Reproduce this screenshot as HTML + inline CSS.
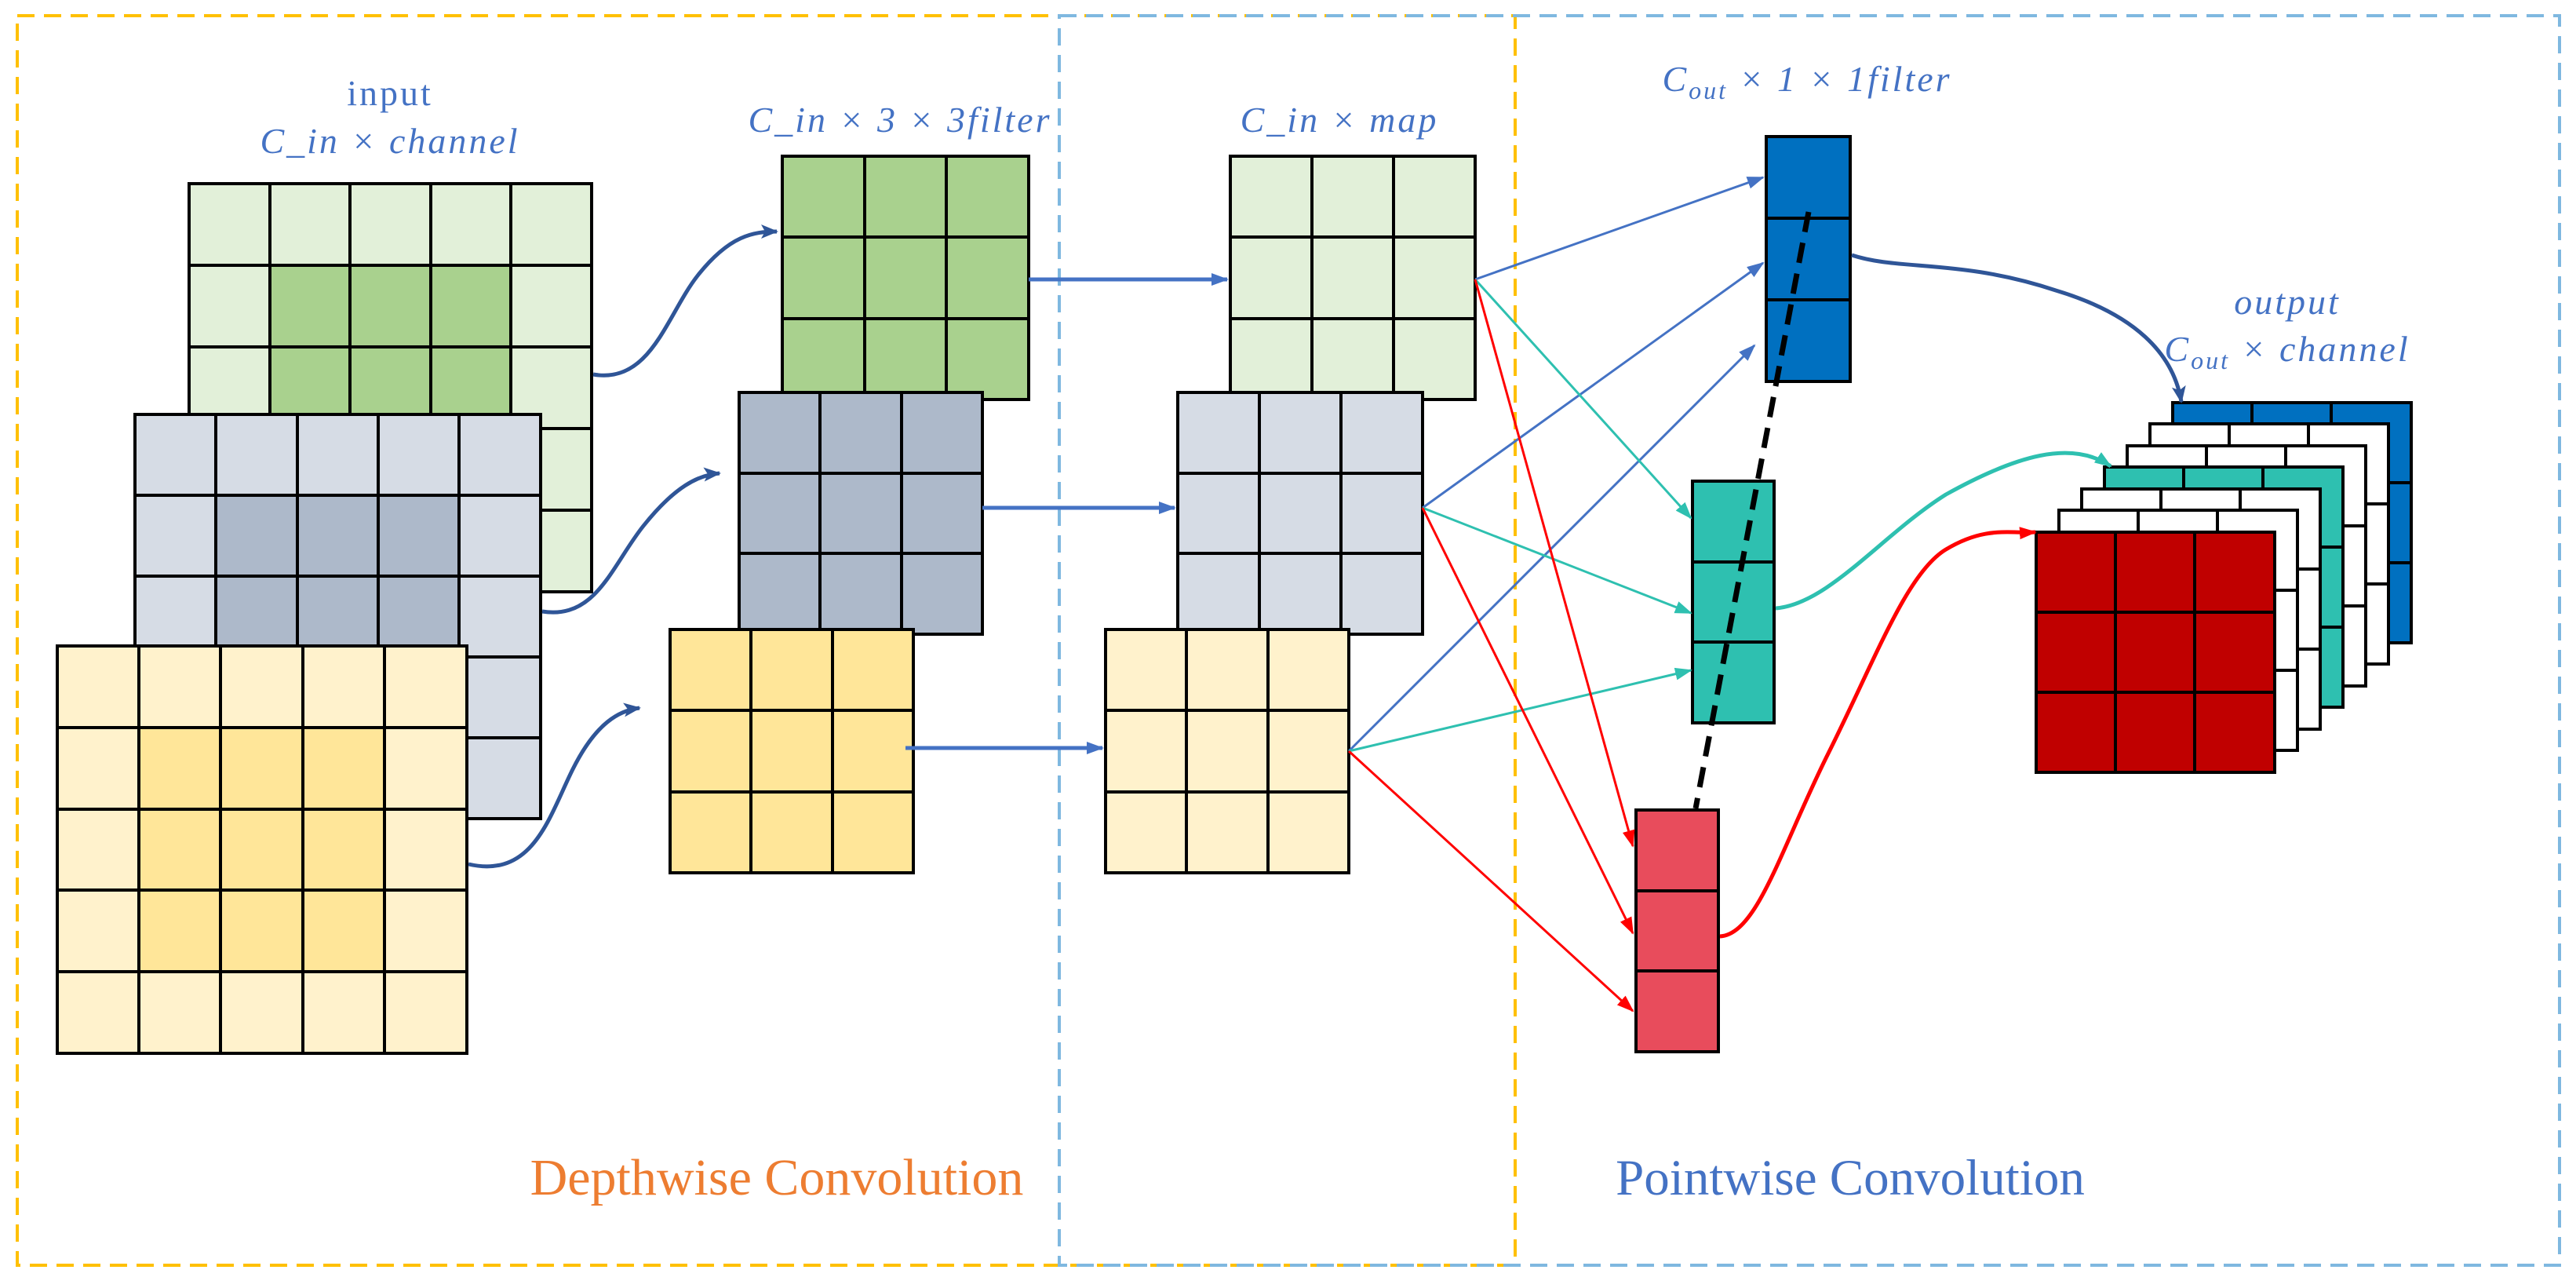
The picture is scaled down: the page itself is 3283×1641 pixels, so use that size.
<!DOCTYPE html>
<html><head><meta charset="utf-8"><style>html,body{margin:0;padding:0;background:#fff}svg{display:block}</style></head>
<body>
<svg width="3283" height="1641" viewBox="0 0 3283 1641" xmlns="http://www.w3.org/2000/svg">
<defs>
<marker id="ab2" markerWidth="22" markerHeight="22" refX="20" refY="11" orient="auto" markerUnits="userSpaceOnUse"><path d="M0,2 L22,11 L0,20 L5,11 z" fill="#2F5597"/></marker>
<marker id="al" markerWidth="22" markerHeight="22" refX="20" refY="11" orient="auto" markerUnits="userSpaceOnUse"><path d="M0,3 L22,11 L0,19 z" fill="#4472C4"/></marker>
<marker id="at" markerWidth="22" markerHeight="22" refX="20" refY="11" orient="auto" markerUnits="userSpaceOnUse"><path d="M0,3 L22,11 L0,19 z" fill="#2EC0B0"/></marker>
<marker id="ar" markerWidth="22" markerHeight="22" refX="20" refY="11" orient="auto" markerUnits="userSpaceOnUse"><path d="M0,3 L22,11 L0,19 z" fill="#FF0000"/></marker>
</defs>
<rect x="22" y="20" width="1909" height="1592" fill="none" stroke="#FFC000" stroke-width="4" stroke-dasharray="22,12"/>
<rect x="1350" y="20" width="1912" height="1592" fill="none" stroke="#7FB8E0" stroke-width="4" stroke-dasharray="22,12"/>

<g stroke="#000" stroke-width="4">
<g>
<rect x="241" y="234" width="513" height="520" fill="#E2F0D9"/>
<rect x="344" y="338" width="307" height="312" fill="#A9D18E"/>
<path d="M344,234V754M446,234V754M549,234V754M651,234V754M241,338H754M241,442H754M241,546H754M241,650H754" fill="none"/>
</g>
<g>
<rect x="172" y="528" width="517" height="515" fill="#D6DCE5"/>
<rect x="275" y="631" width="310" height="309" fill="#ADB9CA"/>
<path d="M275,528V1043M379,528V1043M482,528V1043M585,528V1043M172,631H689M172,734H689M172,837H689M172,940H689" fill="none"/>
</g>
<g>
<rect x="73" y="823" width="522" height="519" fill="#FFF2CC"/>
<rect x="177" y="927" width="313" height="311" fill="#FFE699"/>
<path d="M177,823V1342M281,823V1342M386,823V1342M490,823V1342M73,927H595M73,1031H595M73,1134H595M73,1238H595" fill="none"/>
</g>
<rect x="997" y="199" width="314" height="310" fill="#A9D18E"/>
<path d="M1102,199V509M1206,199V509M997,302H1311M997,406H1311" fill="none"/>
<rect x="942" y="500" width="310" height="308" fill="#ADB9CA"/>
<path d="M1045,500V808M1149,500V808M942,603H1252M942,705H1252" fill="none"/>
<rect x="854" y="802" width="310" height="310" fill="#FFE699"/>
<path d="M957,802V1112M1061,802V1112M854,905H1164M854,1009H1164" fill="none"/>
<rect x="1568" y="199" width="312" height="310" fill="#E2F0D9"/>
<path d="M1672,199V509M1776,199V509M1568,302H1880M1568,406H1880" fill="none"/>
<rect x="1501" y="500" width="312" height="308" fill="#D6DCE5"/>
<path d="M1605,500V808M1709,500V808M1501,603H1813M1501,705H1813" fill="none"/>
<rect x="1409" y="802" width="310" height="310" fill="#FFF2CC"/>
<path d="M1512,802V1112M1616,802V1112M1409,905H1719M1409,1009H1719" fill="none"/>
<rect x="2251" y="174" width="107" height="312" fill="#0070C0"/>
<path d="M2251,278H2358M2251,382H2358" fill="none"/>
<rect x="2157" y="613" width="104" height="308" fill="#2EC0B0"/>
<path d="M2157,716H2261M2157,818H2261" fill="none"/>
<rect x="2085" y="1032" width="105" height="308" fill="#E84C5C"/>
<path d="M2085,1135H2190M2085,1237H2190" fill="none"/>
</g>

<g stroke="#000" stroke-width="4">
<rect x="2769" y="513" width="304" height="306" fill="#0070C0"/><path d="M2870,513V819M2971,513V819M2769,615H3073M2769,717H3073" fill="none"/>
<rect x="2740" y="540" width="304" height="306" fill="#fff"/><path d="M2841,540V846M2942,540V846M2740,642H3044M2740,744H3044" fill="none"/>
<rect x="2711" y="568" width="304" height="306" fill="#fff"/><path d="M2812,568V874M2913,568V874M2711,670H3015M2711,772H3015" fill="none"/>
<rect x="2682" y="595" width="304" height="306" fill="#2EC0B0"/><path d="M2783,595V901M2884,595V901M2682,697H2986M2682,799H2986" fill="none"/>
<rect x="2653" y="623" width="304" height="306" fill="#fff"/><path d="M2754,623V929M2855,623V929M2653,725H2957M2653,827H2957" fill="none"/>
<rect x="2624" y="650" width="304" height="306" fill="#fff"/><path d="M2725,650V956M2826,650V956M2624,752H2928M2624,854H2928" fill="none"/>
<rect x="2595" y="678" width="304" height="306" fill="#C00000"/><path d="M2696,678V984M2797,678V984M2595,780H2899M2595,882H2899" fill="none"/>
</g>

<g fill="none" stroke="#2F5597" stroke-width="5">
<path d="M756,477 C830,490 850,400 890,350 C930,300 960,295 990,295" marker-end="url(#ab2)"/>
<path d="M691,779 C760,790 780,720 820,670 C860,620 890,605 917,603" marker-end="url(#ab2)"/>
<path d="M597,1101 C680,1120 700,1040 730,980 C760,920 790,905 815,902" marker-end="url(#ab2)"/>
</g>
<g fill="none" stroke="#4472C4" stroke-width="5">
<path d="M1311,356H1564" marker-end="url(#al)"/>
<path d="M1252,647H1497" marker-end="url(#al)"/>
<path d="M1154,953H1405" marker-end="url(#al)"/>
</g>
<g fill="none" stroke="#4472C4" stroke-width="3">
<path d="M1880,356L2247,226" marker-end="url(#al)"/>
<path d="M1813,647L2247,335" marker-end="url(#al)"/>
<path d="M1719,957L2236,440" marker-end="url(#al)"/>
</g>
<g fill="none" stroke="#2EC0B0" stroke-width="3">
<path d="M1880,356L2155,660" marker-end="url(#at)"/>
<path d="M1813,647L2155,781" marker-end="url(#at)"/>
<path d="M1719,957L2155,854" marker-end="url(#at)"/>
</g>
<g fill="none" stroke="#FF0000" stroke-width="3">
<path d="M1880,356L2081,1078" marker-end="url(#ar)"/>
<path d="M1813,647L2081,1189" marker-end="url(#ar)"/>
<path d="M1719,957L2081,1288" marker-end="url(#ar)"/>
</g>
<path d="M2305,270L2161,1030" stroke="#000" stroke-width="7" stroke-dasharray="26,14" fill="none"/>
<g fill="none" stroke-width="5">
<path d="M2360,325 C2420,345 2500,330 2620,370 C2720,400 2770,450 2780,512" stroke="#2F5597" marker-end="url(#ab2)"/>
<path d="M2263,775 C2330,770 2400,680 2480,630 C2570,580 2640,560 2690,594" stroke="#2EC0B0" marker-end="url(#at)"/>
<path d="M2192,1193 C2240,1190 2270,1080 2330,960 C2390,840 2430,730 2480,700 C2530,670 2560,680 2594,678" stroke="#FF0000" marker-end="url(#ar)"/>
</g>

<g font-family="'Liberation Serif', serif" fill="#4472C4" font-size="46" text-anchor="middle" font-style="italic" letter-spacing="3">
<text x="497" y="134" font-style="normal">input</text>
<text x="497" y="195">C_in × channel</text>
<text x="1147" y="168">C_in × 3 × 3<tspan>filter</tspan></text>
<text x="1707" y="168">C_in × map</text>
<text x="2303" y="116">C<tspan font-size="32" dy="10">out</tspan><tspan dy="-10"> × 1 × 1filter</tspan></text>
<text x="2915" y="400">output</text>
<text x="2915" y="460">C<tspan font-size="32" dy="10">out</tspan><tspan dy="-10"> × channel</tspan></text>
</g>
<text x="990" y="1522" font-family="'Liberation Serif', serif" font-size="66" fill="#ED7D31" text-anchor="middle">Depthwise Convolution</text>
<text x="2358" y="1522" font-family="'Liberation Serif', serif" font-size="65" fill="#4472C4" text-anchor="middle">Pointwise Convolution</text>
</svg>
</body></html>
